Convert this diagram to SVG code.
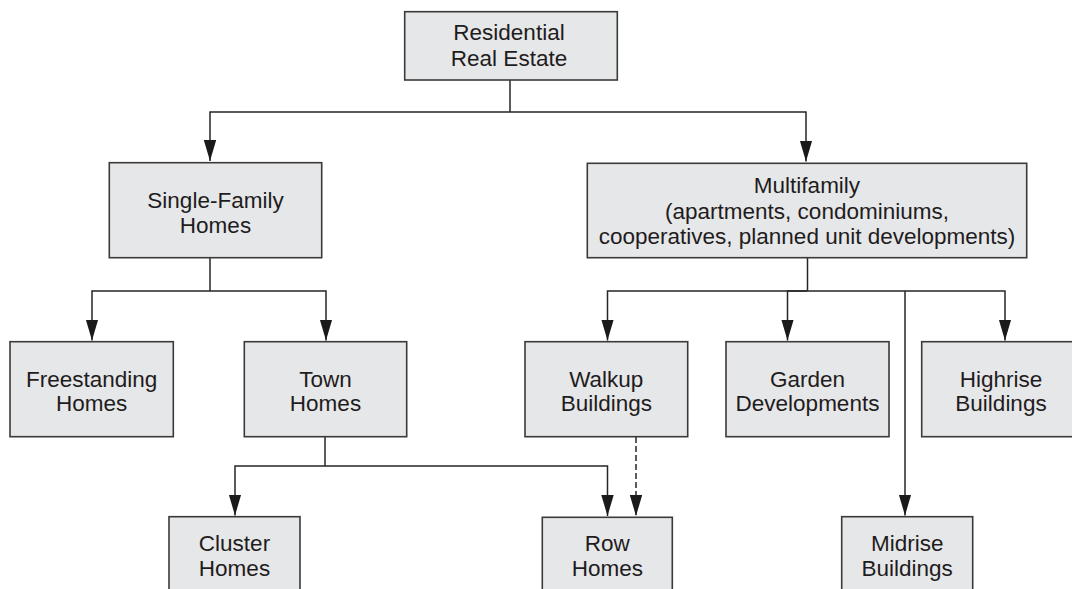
<svg xmlns="http://www.w3.org/2000/svg" width="1072" height="589" viewBox="0 0 1072 589">
  <defs>
    <style>
      .box { fill: #e6e7e8; stroke: #3a3a3a; stroke-width: 1.6; }
      .lbl { font-family: "Liberation Sans", Arial, Helvetica, sans-serif; font-size: 22.5px; fill: #1f1c1d; text-anchor: middle; }
      .ln { fill: none; stroke: #262626; stroke-width: 1.5; }
      .dash { stroke-dasharray: 6 3; }
    </style>
    <marker id="arr" markerUnits="userSpaceOnUse" markerWidth="22" markerHeight="14" refX="21" refY="7" orient="auto">
      <path d="M0,0.8 L21,7 L0,13.2 z" fill="#1a1a1a"/>
    </marker>
  </defs>
  <rect width="1072" height="589" fill="#ffffff"/>

  <g id="connectors">
    <path class="ln" d="M510,80 V112"/>
    <path class="ln" d="M510,112 H210 V161" marker-end="url(#arr)"/>
    <path class="ln" d="M510,112 H806 V161.5" marker-end="url(#arr)"/>
    <path class="ln" d="M210,257.7 V291"/>
    <path class="ln" d="M210,291 H92 V340.5" marker-end="url(#arr)"/>
    <path class="ln" d="M210,291 H326 V340.5" marker-end="url(#arr)"/>
    <path class="ln" d="M807.5,257.7 V291"/>
    <path class="ln" d="M807.5,291 H607.5 V340.5" marker-end="url(#arr)"/>
    <path class="ln" d="M807.5,291 H787.5 V340.5" marker-end="url(#arr)"/>
    <path class="ln" d="M807.5,291 H1005 V340.5" marker-end="url(#arr)"/>
    <path class="ln" d="M905,291 V515.5" marker-end="url(#arr)"/>
    <path class="ln" d="M325,436.7 V466"/>
    <path class="ln" d="M325,466 H235 V515.5" marker-end="url(#arr)"/>
    <path class="ln" d="M325,466 H607.5 V516" marker-end="url(#arr)"/>
    <path class="ln dash" d="M636,437 V516" marker-end="url(#arr)"/>
  </g>

  <g id="residential">
    <rect class="box" x="404.7" y="11.7" width="212.6" height="68.3"/>
    <text class="lbl" x="509" y="40">Residential</text>
    <text class="lbl" x="509" y="65.7">Real Estate</text>
  </g>
  <g id="single-family">
    <rect class="box" x="109.3" y="162.7" width="212.4" height="95"/>
    <text class="lbl" x="215.5" y="207.7">Single-Family</text>
    <text class="lbl" x="215.5" y="232.7">Homes</text>
  </g>
  <g id="multifamily">
    <rect class="box" x="587.3" y="163.3" width="439.4" height="94.4"/>
    <text class="lbl" x="807" y="192.7">Multifamily</text>
    <text class="lbl" x="807" y="218.5">(apartments, condominiums,</text>
    <text class="lbl" x="807" y="244.3">cooperatives, planned unit developments)</text>
  </g>
  <g id="freestanding">
    <rect class="box" x="10" y="341.7" width="163.3" height="95"/>
    <text class="lbl" x="91.7" y="386.8">Freestanding</text>
    <text class="lbl" x="91.7" y="411.3">Homes</text>
  </g>
  <g id="town">
    <rect class="box" x="244.3" y="341.7" width="162.4" height="95"/>
    <text class="lbl" x="325.5" y="386.8">Town</text>
    <text class="lbl" x="325.5" y="411.3">Homes</text>
  </g>
  <g id="walkup">
    <rect class="box" x="525" y="341.7" width="162.7" height="95"/>
    <text class="lbl" x="606.3" y="386.8">Walkup</text>
    <text class="lbl" x="606.3" y="411.3">Buildings</text>
  </g>
  <g id="garden">
    <rect class="box" x="726" y="341.7" width="163" height="95"/>
    <text class="lbl" x="807.5" y="386.8">Garden</text>
    <text class="lbl" x="807.5" y="411.3">Developments</text>
  </g>
  <g id="highrise">
    <rect class="box" x="921.7" y="341.7" width="155" height="95"/>
    <text class="lbl" x="1001" y="386.8">Highrise</text>
    <text class="lbl" x="1001" y="411.3">Buildings</text>
  </g>
  <g id="cluster">
    <rect class="box" x="169" y="516.7" width="131" height="80"/>
    <text class="lbl" x="234.5" y="551">Cluster</text>
    <text class="lbl" x="234.5" y="576">Homes</text>
  </g>
  <g id="row">
    <rect class="box" x="542.3" y="517.3" width="130" height="80"/>
    <text class="lbl" x="607.3" y="551">Row</text>
    <text class="lbl" x="607.3" y="576">Homes</text>
  </g>
  <g id="midrise">
    <rect class="box" x="841.7" y="516.7" width="131" height="80"/>
    <text class="lbl" x="907.2" y="550.5">Midrise</text>
    <text class="lbl" x="907.2" y="575.5">Buildings</text>
  </g>
</svg>
